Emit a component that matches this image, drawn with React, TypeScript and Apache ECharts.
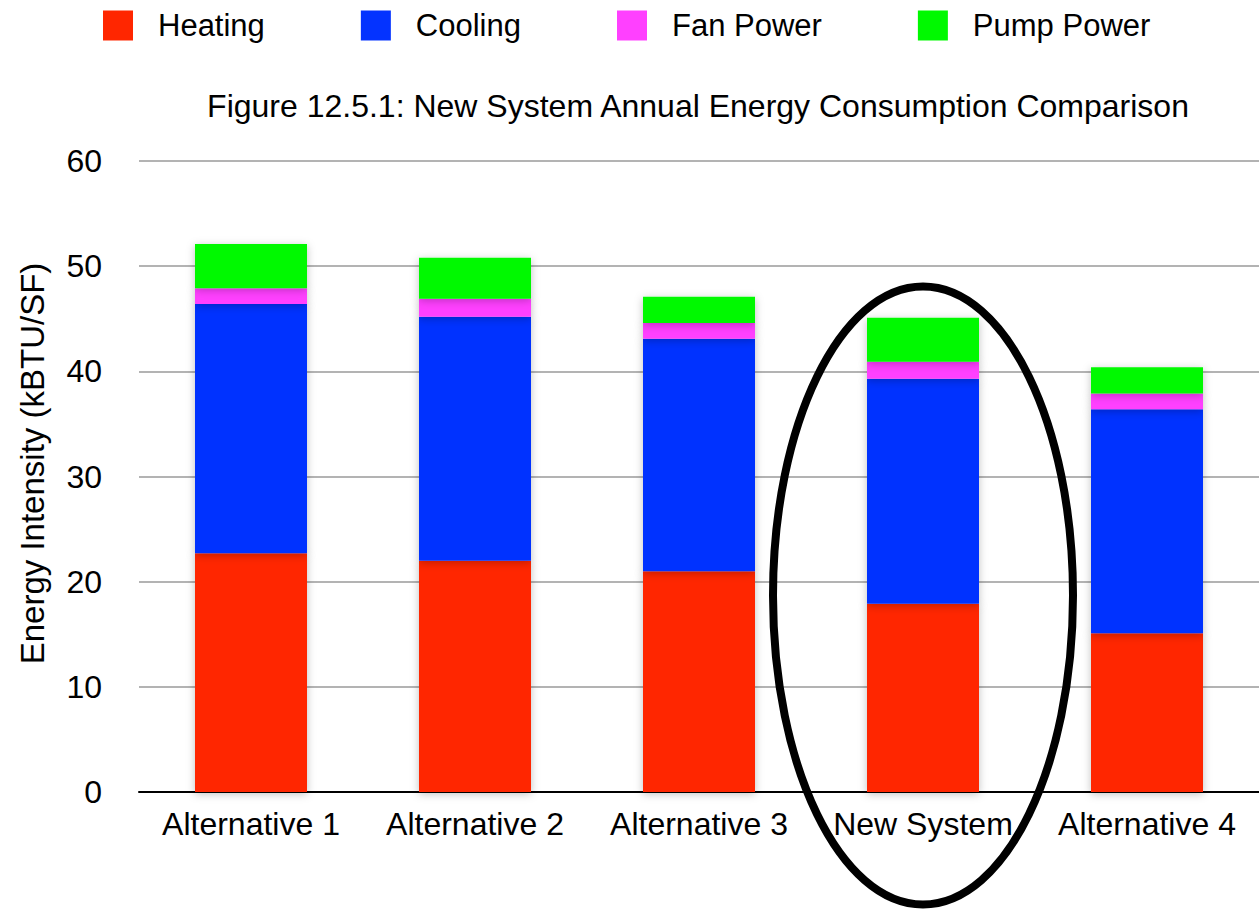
import React, { useEffect, useRef } from "react";
import * as echarts from "echarts";

const categories = ["Alternative 1", "Alternative 2", "Alternative 3", "New System", "Alternative 4"];
const heating = [22.7, 22.0, 21.0, 17.9, 15.1];
const cooling = [23.7, 23.2, 22.1, 21.4, 21.3];
const fanPower = [1.5, 1.7, 1.5, 1.6, 1.5];
const pumpPower = [4.2, 3.9, 2.5, 4.2, 2.5];
const seriesNames = ["Heating", "Cooling", "Fan Power", "Pump Power"];
const seriesColors = ["#FF2600", "#0433FF", "#FF40FF", "#00F900"];
const titleText = "Figure 12.5.1: New System Annual Energy Consumption Comparison";
const yAxisName = "Energy Intensity (kBTU/SF)";

const FONT = "'Liberation Sans', Arial, Helvetica, sans-serif";

export default function App() {
  const ref = useRef<HTMLDivElement>(null);
  useEffect(() => {
    if (!ref.current) return;
    const chart = echarts.init(ref.current, undefined, { renderer: "svg" });
    const data = [heating, cooling, fanPower, pumpPower];
    chart.setOption({
      animation: false,
      backgroundColor: "#ffffff",
      textStyle: { fontFamily: FONT },
      title: {
        text: titleText,
        left: 698,
        top: 90,
        padding: 0,
        textAlign: "center",
        textStyle: { fontFamily: FONT, fontSize: 32, fontWeight: "normal", color: "#000" },
      },
      legend: {
        left: 103,
        top: 10,
        padding: 0,
        itemWidth: 30,
        itemHeight: 30,
        itemGap: 96,
        icon: "rect",
        textStyle: { fontFamily: FONT, fontSize: 31, color: "#000", padding: [0, 0, 0, 20] },
        data: seriesNames,
      },
      grid: { left: 139, right: 0, top: 161, bottom: 119, containLabel: false, outerBoundsMode: "none" },
      xAxis: {
        type: "category",
        data: categories,
        axisLine: { lineStyle: { color: "#000", width: 2 } },
        axisTick: { show: false },
        axisLabel: { fontFamily: FONT, fontSize: 32, color: "#000", margin: 16, interval: 0 },
      },
      yAxis: {
        type: "value",
        min: 0,
        max: 60,
        interval: 10,
        name: yAxisName,
        nameLocation: "middle",
        nameRotate: 90,
        nameGap: 90,
        nameTextStyle: { fontFamily: FONT, fontSize: 33, color: "#000", padding: [0, 0, 0, 26] },
        axisLine: { show: false },
        axisTick: { show: false },
        axisLabel: { fontFamily: FONT, fontSize: 32, color: "#000", margin: 37 },
        splitLine: { lineStyle: { color: "#b3b3b3", width: 2 } },
      },
      series: seriesNames.map((name, i) => ({
        name,
        type: "bar",
        stack: "total",
        barWidth: "50%",
        data: data[i],
        itemStyle: {
          color: seriesColors[i],
          shadowBlur: 8,
          shadowColor: "rgba(0,0,0,0.25)",
          shadowOffsetY: 2,
        },
      })),
      graphic: [
        {
          type: "ellipse",
          shape: { cx: 923, cy: 595.5, rx: 150, ry: 309 },
          style: { fill: "none", stroke: "#000", lineWidth: 8 },
          z: 100,
        },
      ],
    });
    return () => chart.dispose();
  }, []);
  return (
    <div
      ref={ref}
      style={{ position: "absolute", left: 0, top: 0, width: 1259, height: 911 }}
    />
  );
}
